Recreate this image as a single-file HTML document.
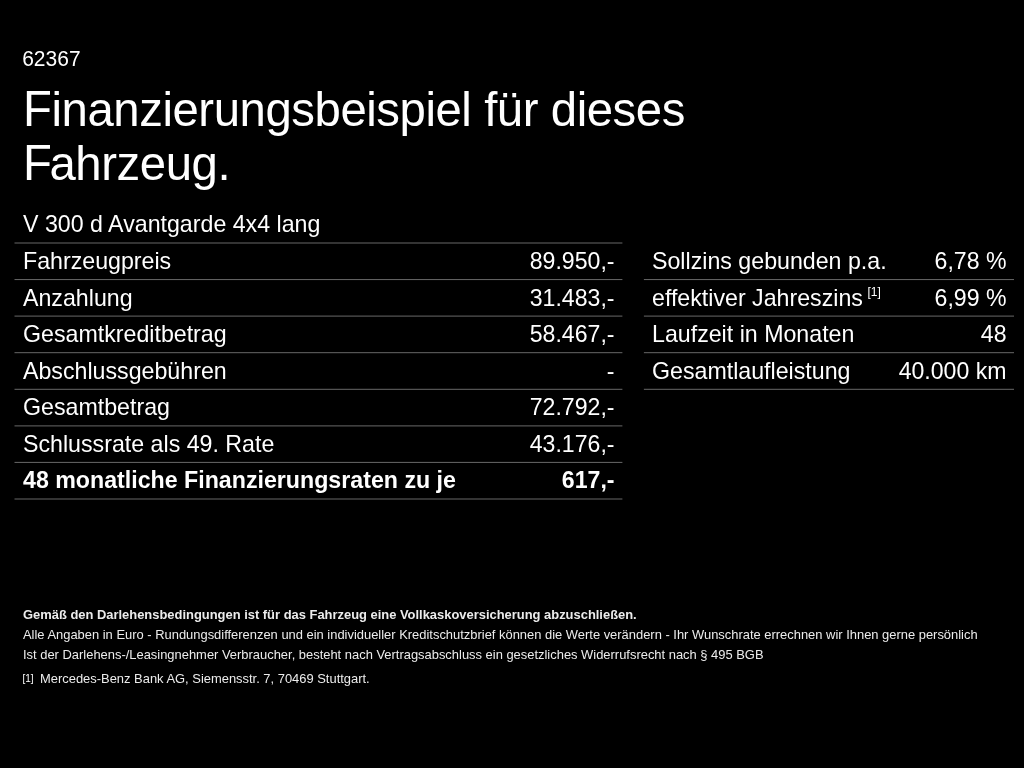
<!DOCTYPE html>
<html><head><meta charset="utf-8">
<style>
html,body{margin:0;padding:0;background:#000;}
body{width:1024px;height:768px;overflow:hidden;position:relative;color:#fff;filter:blur(0.4px);font-family:"Liberation Sans",sans-serif;}
.t{position:absolute;white-space:nowrap;line-height:1;}
.id{left:22.2px;top:47.9px;font-size:21px;transform:scaleY(1.055);transform-origin:0 84.65%;}
.h1{left:23px;font-size:47.3px;letter-spacing:-0.43px;}
.cap{display:inline-block;transform:scaleY(1.07);transform-origin:0 84.65%;}
.row{position:absolute;left:15px;width:607px;height:36px;font-size:23.2px;}
.row span{position:absolute;top:7px;line-height:1;white-space:nowrap;}
.row .l{left:8px;}
.row .r{right:7.5px;font-size:23.1px;transform:scaleY(1.03);transform-origin:0 84.65%;}
.rrow{left:644px;width:370px;}
.small{font-size:12.93px;left:23px;color:#ececec;}
</style></head><body>
<svg style="position:absolute;left:0;top:0" width="1024" height="768"><line x1="14.5" x2="622.4" y1="243.0" y2="243" stroke="#686868" stroke-width="1"/><line x1="14.5" x2="622.4" y1="279.57" y2="279.57" stroke="#686868" stroke-width="1"/><line x1="643.9" x2="1014" y1="279.57" y2="279.57" stroke="#686868" stroke-width="1"/><line x1="14.5" x2="622.4" y1="316.1" y2="316.1" stroke="#686868" stroke-width="1"/><line x1="643.9" x2="1014" y1="316.1" y2="316.1" stroke="#686868" stroke-width="1"/><line x1="14.5" x2="622.4" y1="352.7" y2="352.7" stroke="#686868" stroke-width="1"/><line x1="643.9" x2="1014" y1="352.7" y2="352.7" stroke="#686868" stroke-width="1"/><line x1="14.5" x2="622.4" y1="389.3" y2="389.3" stroke="#686868" stroke-width="1"/><line x1="643.9" x2="1014" y1="389.3" y2="389.3" stroke="#686868" stroke-width="1"/><line x1="14.5" x2="622.4" y1="425.9" y2="425.9" stroke="#686868" stroke-width="1"/><line x1="14.5" x2="622.4" y1="462.4" y2="462.4" stroke="#686868" stroke-width="1"/><line x1="14.5" x2="622.4" y1="499.0" y2="499" stroke="#686868" stroke-width="1"/></svg>
<div class="t id">62367</div>
<div class="t h1" style="top:85.8px"><span class="cap">F</span>inanzierungsbeispiel für dieses</div>
<div class="t h1" style="top:139.5px"><span class="cap" style="margin-right:-2px">F</span>ahrzeug.</div>
<div class="t" style="left:23px;top:213px;font-size:23.2px">V 300 d Avantgarde 4x4 lang</div>

<div class="row" style="top:243px"><span class="l">Fahrzeugpreis</span><span class="r">89.950,-</span></div>
<div class="row" style="top:279.57px"><span class="l">Anzahlung</span><span class="r">31.483,-</span></div>
<div class="row" style="top:316.1px"><span class="l">Gesamtkreditbetrag</span><span class="r">58.467,-</span></div>
<div class="row" style="top:352.7px"><span class="l">Abschlussgebühren</span><span class="r">-</span></div>
<div class="row" style="top:389.3px"><span class="l">Gesamtbetrag</span><span class="r">72.792,-</span></div>
<div class="row" style="top:425.9px"><span class="l">Schlussrate als 49. Rate</span><span class="r">43.176,-</span></div>
<div class="row" style="top:462.4px;font-weight:bold"><span class="l">48 monatliche Finanzierungsraten zu je</span><span class="r">617,-</span></div>
<div class="row" style="top:499px;height:0"></div>

<div class="row rrow" style="top:243px"><span class="l">Sollzins gebunden p.a.</span><span class="r">6,78 %</span></div>
<div class="row rrow" style="top:279.57px"><span class="l">effektiver Jahreszins <sup style="font-size:12px;position:relative;top:-1px;margin-left:-2px;vertical-align:top;line-height:1">[1]</sup></span><span class="r">6,99 %</span></div>
<div class="row rrow" style="top:316.1px"><span class="l">Laufzeit in Monaten</span><span class="r">48</span></div>
<div class="row rrow" style="top:352.7px"><span class="l">Gesamtlaufleistung</span><span class="r">40.000 km</span></div>
<div class="row rrow" style="top:389.3px;height:0"></div>

<div class="t small" style="top:609px;font-weight:bold">Gemäß den Darlehensbedingungen ist für das Fahrzeug eine Vollkaskoversicherung abzuschließen.</div>
<div class="t small" style="top:629px">Alle Angaben in Euro - Rundungsdifferenzen und ein individueller Kreditschutzbrief können die Werte verändern - Ihr Wunschrate errechnen wir Ihnen gerne persönlich</div>
<div class="t small" style="top:649px">Ist der Darlehens-/Leasingnehmer Verbraucher, besteht nach Vertragsabschluss ein gesetzliches Widerrufsrecht nach § 495 BGB</div>
<div class="t" style="left:22.5px;top:674px;font-size:10px">[1]</div>
<div class="t small" style="left:40px;top:673px">Mercedes-Benz Bank AG, Siemensstr. 7, 70469 Stuttgart.</div>
</body></html>
